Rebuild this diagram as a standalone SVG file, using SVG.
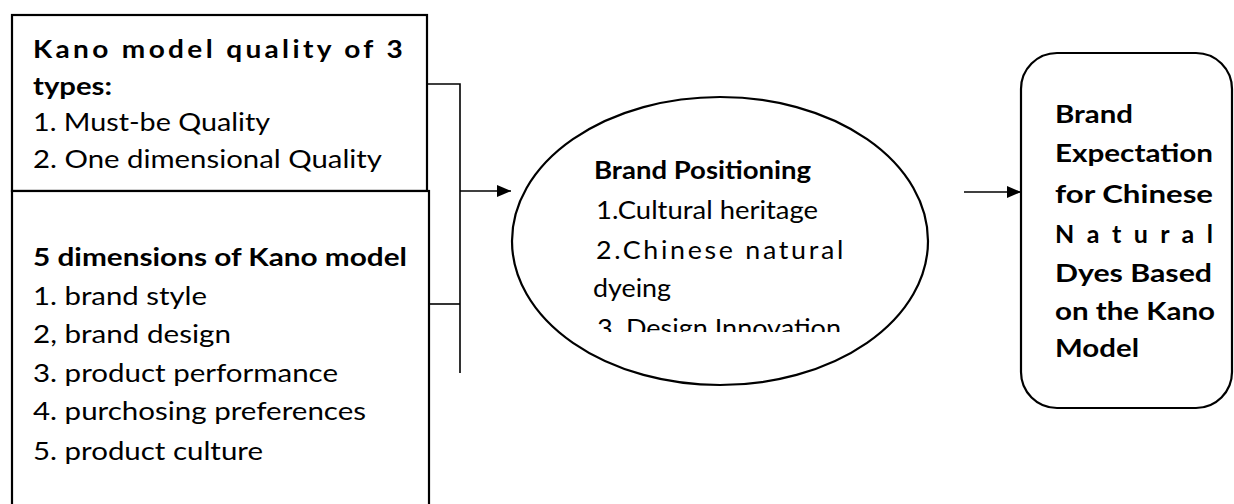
<svg xmlns="http://www.w3.org/2000/svg" width="1234" height="504" viewBox="0 0 1234 504">
<style>
.box{fill:#fff;stroke:#000;stroke-width:2.2}
.conn{fill:none;stroke:#000;stroke-width:1.6}
.t{font-family:Lato,"Open Sans","Liberation Sans",sans-serif;font-size:25px;fill:#000}
.b{font-weight:bold}
</style>
<defs>
<marker id="arr" markerWidth="14" markerHeight="12" refX="14" refY="6" orient="auto" markerUnits="userSpaceOnUse">
<path d="M0,0 L14,6 L0,12 Z" fill="#000"/>
</marker>
<clipPath id="clipE"><rect x="500" y="90" width="440" height="242"/></clipPath>
</defs>
<rect width="1234" height="504" fill="#fff"/>
<g id="node-quality">
<rect class="box" x="12" y="15" width="415" height="176"/>
<text class="t b" x="33" y="58" letter-spacing="3" textLength="373" lengthAdjust="spacingAndGlyphs">Kano model quality of 3</text>
<text class="t b" x="33" y="95" textLength="79" lengthAdjust="spacingAndGlyphs">types:</text>
<text class="t" x="33" y="131" textLength="237" lengthAdjust="spacingAndGlyphs">1. Must-be Quality</text>
<text class="t" x="33" y="168" textLength="349" lengthAdjust="spacingAndGlyphs">2. One dimensional Quality</text>
</g>
<g id="node-dimensions">
<rect class="box" x="12" y="191" width="417" height="330"/>
<text class="t b" x="33" y="266" textLength="374" lengthAdjust="spacingAndGlyphs">5 dimensions of Kano model</text>
<text class="t" x="33" y="305" textLength="174" lengthAdjust="spacingAndGlyphs">1. brand style</text>
<text class="t" x="33" y="343" textLength="198" lengthAdjust="spacingAndGlyphs">2, brand design</text>
<text class="t" x="33" y="382" textLength="305" lengthAdjust="spacingAndGlyphs">3. product performance</text>
<text class="t" x="33" y="420" textLength="333" lengthAdjust="spacingAndGlyphs">4. purchosing preferences</text>
<text class="t" x="33" y="460" textLength="230" lengthAdjust="spacingAndGlyphs">5. product culture</text>
</g>
<g id="connectors">
<path class="conn" d="M427,84 H460 V373"/>
<path class="conn" d="M429,304 H460"/>
<path class="conn" d="M460,191 H511" marker-end="url(#arr)"/>
<path class="conn" d="M964,192 H1021" marker-end="url(#arr)"/>
</g>
<g id="node-positioning">
<ellipse class="box" cx="720" cy="241" rx="208" ry="144"/>
<text class="t b" x="594" y="179" textLength="217" lengthAdjust="spacingAndGlyphs">Brand Positioning</text>
<text class="t" x="596" y="219" textLength="222" lengthAdjust="spacingAndGlyphs">1.Cultural heritage</text>
<text class="t" x="596" y="259" letter-spacing="2.5" textLength="250" lengthAdjust="spacingAndGlyphs">2.Chinese natural</text>
<text class="t" x="593" y="297" textLength="78" lengthAdjust="spacingAndGlyphs">dyeing</text>
<text class="t" x="597" y="337" textLength="244" lengthAdjust="spacingAndGlyphs" clip-path="url(#clipE)">3. Design Innovation</text>
</g>
<g id="node-expectation">
<rect class="box" x="1021" y="53" width="211" height="355" rx="36" ry="36"/>
<text class="t b" x="1055" y="123" textLength="78" lengthAdjust="spacingAndGlyphs">Brand</text>
<text class="t b" x="1055" y="162" textLength="158" lengthAdjust="spacingAndGlyphs">Expectation</text>
<text class="t b" x="1055" y="203" textLength="158" lengthAdjust="spacingAndGlyphs">for Chinese</text>
<text class="t b" x="1055" y="243" textLength="158" lengthAdjust="spacing">N a t u r a l</text>
<text class="t b" x="1055" y="282" textLength="157" lengthAdjust="spacingAndGlyphs">Dyes Based</text>
<text class="t b" x="1055" y="320" textLength="160" lengthAdjust="spacingAndGlyphs">on the Kano</text>
<text class="t b" x="1055" y="357" textLength="84" lengthAdjust="spacingAndGlyphs">Model</text>
</g>
</svg>
